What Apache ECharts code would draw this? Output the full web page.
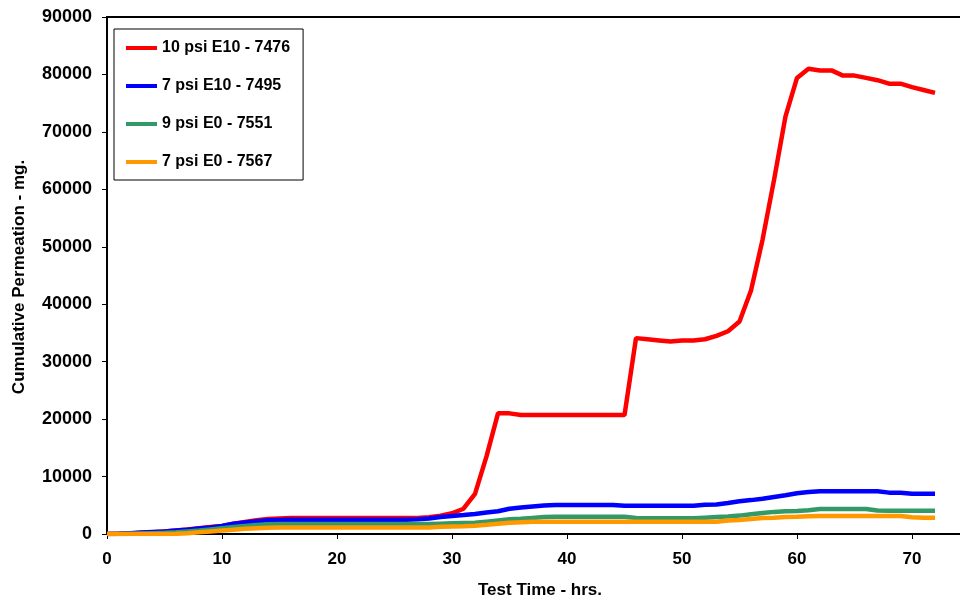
<!DOCTYPE html>
<html>
<head>
<meta charset="utf-8">
<script src="https://cdn.jsdelivr.net/npm/echarts@6/dist/echarts.min.js"></script>
<style>html,body{margin:0;padding:0;background:#fff;}#c{width:960px;height:603px;}</style>
</head>
<body>
<div id="c"></div>
<script>
const hours = [0,1,2,3,4,5,6,7,8,9,10,11,12,13,14,15,16,17,18,19,20,21,22,23,24,25,26,27,28,29,30,31,32,33,34,35,36,37,38,39,40,41,42,43,44,45,46,47,48,49,50,51,52,53,54,55,56,57,58,59,60,61,62,63,64,65,66,67,68,69,70,71,72];
const seriesNames = ["10 psi E10 - 7476","7 psi E10 - 7495","9 psi E0 - 7551","7 psi E0 - 7567"];
const red = [0,50,100,200,300,450,600,800,1000,1200,1400,1800,2100,2400,2600,2700,2800,2800,2800,2800,2800,2800,2800,2800,2800,2800,2800,2800,2900,3200,3600,4400,7000,13500,21000,21000,20700,20700,20700,20700,20700,20700,20700,20700,20700,20700,34100,33900,33700,33500,33700,33700,33900,34500,35300,37000,42400,51200,61600,72700,79400,81000,80700,80700,79800,79800,79400,79000,78400,78400,77800,77300,76800];
const blue = [0,50,150,250,350,450,600,750,950,1150,1400,1800,2000,2200,2400,2450,2500,2500,2500,2500,2500,2500,2500,2500,2500,2500,2500,2550,2700,2950,3150,3300,3500,3750,3950,4400,4600,4800,4950,5050,5050,5050,5050,5050,5050,4900,4900,4900,4900,4900,4900,4900,5100,5150,5400,5700,5900,6150,6450,6750,7100,7300,7450,7450,7450,7450,7450,7450,7200,7200,7000,7000,7000];
const green = [0,0,50,100,150,200,300,450,600,800,1000,1200,1400,1550,1700,1750,1750,1750,1750,1750,1750,1750,1750,1750,1750,1750,1750,1750,1750,1800,1850,1900,1950,2150,2350,2550,2650,2800,2950,3000,3000,3000,3000,3000,3000,3000,2800,2750,2750,2750,2750,2750,2850,2950,3050,3200,3450,3650,3850,3950,4000,4150,4350,4350,4350,4350,4350,4100,4050,4050,4050,4050,4050];
const orange = [0,0,0,0,0,0,50,150,300,450,600,750,900,1000,1100,1150,1150,1150,1150,1150,1150,1150,1150,1150,1150,1150,1150,1150,1150,1250,1300,1350,1450,1600,1800,1950,2050,2150,2150,2150,2150,2150,2150,2150,2150,2150,2150,2150,2150,2150,2150,2150,2150,2150,2350,2450,2600,2800,2850,2950,3000,3100,3150,3150,3150,3150,3150,3150,3150,3150,2900,2850,2850];
const colors = ["#FF0000","#0000FF","#339966","#FF9900"];
const yTicks = {min:0, max:90000, interval:10000};
const xTicks = {min:0, max:80, interval:10};

const allData = [red, blue, green, orange];
const chart = echarts.init(document.getElementById('c'), null, {renderer:'canvas'});
const font = 'Liberation Sans, Arial, sans-serif';
chart.setOption({
  animation:false,
  backgroundColor:'#fff',
  grid:{left:107, top:17, right:-67, bottom:69, outerBoundsMode:'none', containLabel:false, show:true, borderColor:'#000', borderWidth:2, backgroundColor:'transparent'},
  xAxis:{type:'value', min:xTicks.min, max:xTicks.max, interval:xTicks.interval,
    axisLine:{onZero:false, lineStyle:{color:'#000', width:2}},
    axisTick:{show:true, inside:false, length:5, lineStyle:{color:'#000', width:1}},
    splitLine:{show:false},
    axisLabel:{color:'#000', fontFamily:font, fontWeight:'bold', fontSize:17, margin:17, formatter:v=>String(v)}},
  yAxis:{type:'value', min:yTicks.min, max:yTicks.max, interval:yTicks.interval,
    axisLine:{show:true, lineStyle:{color:'#000', width:2}},
    axisTick:{show:true, inside:false, length:5, lineStyle:{color:'#000', width:1}},
    splitLine:{show:false},
    axisLabel:{color:'#000', fontFamily:font, fontWeight:'bold', fontSize:18, margin:15, formatter:v=>String(v)}},
  legend:{left:114, top:29, orient:'vertical', backgroundColor:'#fff', borderColor:'#000', borderWidth:1,
    padding:[11,13,10,12], itemGap:22, itemWidth:31, itemHeight:4, icon:'rect',
    textStyle:{color:'#000', fontFamily:font, fontWeight:'bold', fontSize:16},
    data:seriesNames},
  graphic:[
    {type:'text', position:[540,590], style:{text:'Test Time - hrs.', fill:'#000', font:'bold 17px '+font, textAlign:'center', textVerticalAlign:'middle'}},
    {type:'text', rotation:Math.PI/2, position:[19,277], style:{text:'Cumulative Permeation - mg.', fill:'#000', font:'bold 17px '+font, textAlign:'center', textVerticalAlign:'middle'}}
  ],
  series: seriesNames.map((n,i)=>({
    name:n, type:'line', showSymbol:false, symbol:'none', smooth:false,
    lineStyle:{color:colors[i], width:4.5}, itemStyle:{color:colors[i]},
    data: hours.map((h,j)=>[h, allData[i][j]])
  }))
});
</script>
</body>
</html>
